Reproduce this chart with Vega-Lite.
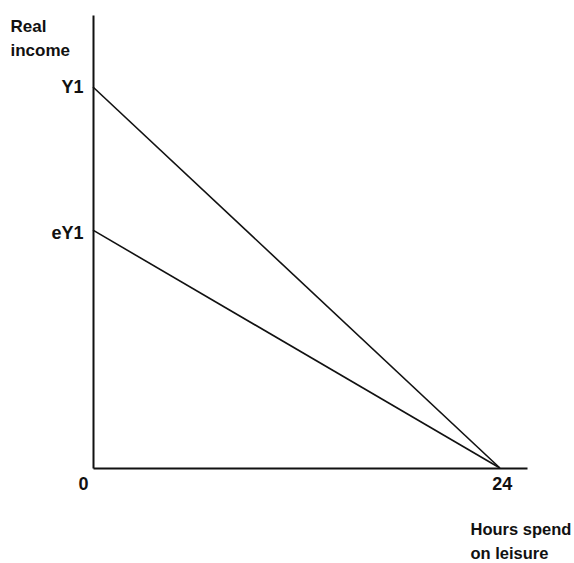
{
  "$schema": "https://vega.github.io/schema/vega-lite/v6.json",
  "width": 434,
  "height": 453,
  "autosize": {"type": "none"},
  "padding": {"left": 93, "top": 15, "right": 47, "bottom": 95},
  "background": "white",
  "config": {"view": {"stroke": null}},
  "data": {"values": [
    {"series": "Y1", "hours": 0, "income": 84.1},
    {"series": "Y1", "hours": 24, "income": 0},
    {"series": "eY1", "hours": 0, "income": 52.5},
    {"series": "eY1", "hours": 24, "income": 0}
  ]},
  "mark": {"type": "line", "color": "#111", "strokeWidth": 1.6, "clip": false},
  "encoding": {
    "detail": {"field": "series"},
    "x": {
      "field": "hours", "type": "quantitative",
      "scale": {"domain": [0, 25.6], "nice": false, "zero": false},
      "axis": {
        "values": [0, 24], "ticks": false, "grid": false,
        "domainColor": "#111", "domainWidth": 2,
        "labelFont": "Liberation Sans", "labelFontWeight": "bold", "labelFontSize": 18, "labelColor": "#111",
        "labelPadding": 7,
        "labelAlign": {"expr": "datum.value == 0 ? 'right' : 'center'"},
        "labelOffset": {"expr": "datum.value == 0 ? -5 : 2"},
        "labelFlush": false,
        "title": ["Hours spend", "on leisure"],
        "titleFont": "Liberation Sans", "titleFontWeight": "bold", "titleFontSize": 16.5, "titleColor": "#111",
        "titleAlign": "left", "titleBaseline": "alphabetic", "titleLineHeight": 24,
        "titleX": 377, "titleY": 66, "titleAnchor": null
      }
    },
    "y": {
      "field": "income", "type": "quantitative",
      "scale": {"domain": [0, 100], "nice": false},
      "axis": {
        "values": [52.5, 84.1], "ticks": false, "grid": false,
        "domainColor": "#111", "domainWidth": 2,
        "labelExpr": "datum.value > 60 ? 'Y1' : 'eY1'",
        "labelFont": "Liberation Sans", "labelFontWeight": "bold", "labelFontSize": 18, "labelColor": "#111",
        "labelPadding": 10,
        "labelOffset": {"expr": "datum.value > 60 ? 0 : 3"},
        "title": ["Real", "income"],
        "titleFont": "Liberation Sans", "titleFontWeight": "bold", "titleFontSize": 17, "titleColor": "#111",
        "titleAngle": 0, "titleAlign": "left", "titleBaseline": "alphabetic", "titleLineHeight": 24,
        "titleX": -83, "titleY": 16
      }
    }
  }
}
